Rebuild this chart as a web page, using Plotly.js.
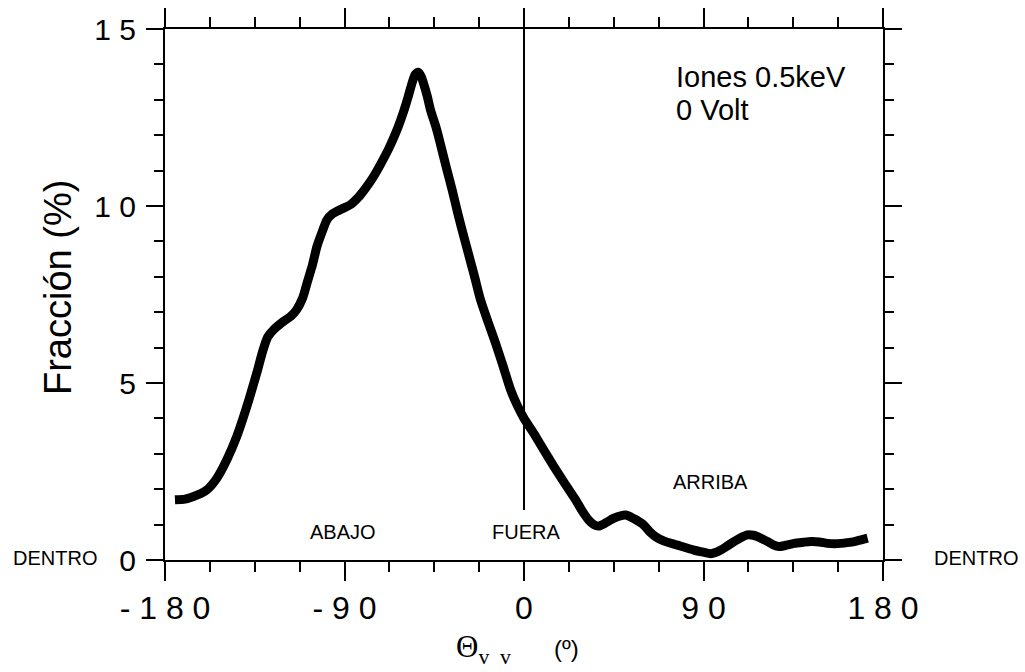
<!DOCTYPE html>
<html>
<head>
<meta charset="utf-8">
<script src="https://cdn.plot.ly/plotly-3.0.1.min.js"></script>
<style>
html,body{margin:0;padding:0;background:#fff;}
#chart{width:1025px;height:672px;}
</style>
</head>
<body>
<div id="chart"></div>
<script>
// Angle (degrees) and fraction (%)
const theta = [-175, -170, -166, -162, -159, -154, -149, -144, -139, -134, -131, -128.5, -125.6, -120.6, -117, -114, -111, -108.8, -106, -103.8, -101, -98.8, -96, -93.8, -90.5, -87, -83, -80, -76, -72, -68, -65.4, -63, -60.3, -58, -56.1, -54.5, -53, -51.5, -50.3, -48.5, -46.9, -44, -41.9, -39, -36, -33, -30, -25, -21.8, -18, -14.3, -10.5, -6.8, -3.5, 0, 4.9, 10, 15, 20, 25.9, 29, 32.4, 35, 37.4, 41, 45, 51, 55, 60, 63, 66, 70, 76.9, 85.2, 90, 93.6, 96, 98.6, 102, 105.3, 109, 112, 115, 117.1, 120, 122.1, 125, 127.9, 131, 135.4, 140, 143.8, 148, 152.2, 156, 158.9, 162, 165.6, 169, 172.3];
const fraction = [1.70, 1.72, 1.79, 1.88, 1.98, 2.31, 2.83, 3.49, 4.33, 5.28, 5.9, 6.3, 6.50, 6.74, 6.88, 7.07, 7.4, 7.82, 8.35, 8.86, 9.3, 9.61, 9.78, 9.85, 9.94, 10.04, 10.25, 10.46, 10.78, 11.17, 11.6, 11.92, 12.25, 12.68, 13.1, 13.48, 13.72, 13.78, 13.65, 13.45, 13.1, 12.72, 12.2, 11.75, 11.1, 10.45, 9.75, 9.1, 8.05, 7.35, 6.72, 6.13, 5.48, 4.82, 4.38, 4.0, 3.58, 3.1, 2.64, 2.2, 1.70, 1.4, 1.13, 1.0, 0.96, 1.05, 1.18, 1.27, 1.17, 0.99, 0.8, 0.66, 0.54, 0.42, 0.28, 0.22, 0.18, 0.21, 0.28, 0.4, 0.52, 0.64, 0.71, 0.70, 0.66, 0.58, 0.52, 0.43, 0.38, 0.41, 0.47, 0.5, 0.52, 0.51, 0.47, 0.46, 0.47, 0.49, 0.52, 0.57, 0.62];

const xTickVals = [-180, -90, 0, 90, 180];
const xTickText = ['- 1 8 0', '- 9 0', '0', '9 0', '1 8 0'];
const yTickVals = [0, 5, 10, 15];
const yTickText = ['0', '5', '1 0', '1 5'];

const regionLabels = ['ABAJO', 'FUERA', 'ARRIBA'];
const regionX = [-90.9, 1.1, 93.6];
const regionY = [0.78, 0.78, 2.19];

const font = 'Liberation Sans, Arial, sans-serif';

const trace = {
  x: theta, y: fraction, type: 'scatter', mode: 'lines',
  line: {color: '#000', width: 9, shape: 'spline', smoothing: 0.7},
  hoverinfo: 'skip'
};

const annotations = [];
for (let i = 0; i < regionLabels.length; i++) {
  annotations.push({x: regionX[i], y: regionY[i], xref: 'x', yref: 'y', text: regionLabels[i],
    showarrow: false, font: {family: font, size: 20, color: '#000'}, xanchor: 'center', yanchor: 'middle'});
}
annotations.push({x: -0.1532, y: 0.003, xref: 'paper', yref: 'paper', text: 'DENTRO', showarrow: false,
  font: {family: font, size: 20, color: '#000'}, xanchor: 'center', yanchor: 'middle'});
annotations.push({x: 1.1295, y: 0.003, xref: 'paper', yref: 'paper', text: 'DENTRO', showarrow: false,
  font: {family: font, size: 20, color: '#000'}, xanchor: 'center', yanchor: 'middle'});
annotations.push({x: (676-165)/718, y: (560-77)/531, xref: 'paper', yref: 'paper', text: 'Iones 0.5keV', showarrow: false,
  font: {family: font, size: 29, color: '#000'}, xanchor: 'left', yanchor: 'middle', xshift: -2});
annotations.push({x: (676-165)/718, y: (560-110)/531, xref: 'paper', yref: 'paper', text: '0 Volt', showarrow: false,
  font: {family: font, size: 29, color: '#000'}, xanchor: 'left', yanchor: 'middle', xshift: -2});
// axis titles
annotations.push({x: (58-165)/718, y: (560-288)/531, xref: 'paper', yref: 'paper', text: 'Fracción (%)', showarrow: false,
  textangle: -90, font: {family: font, size: 38, color: '#000'}, xanchor: 'center', yanchor: 'middle'});
annotations.push({x: (454-165)/718, y: (560-649)/531, xref: 'paper', yref: 'paper', text: 'Θ<sub>v  v</sub>', showarrow: false,
  font: {family: 'Liberation Serif, Times New Roman, serif', size: 31, color: '#000'}, xanchor: 'left', yanchor: 'middle'});
annotations.push({x: (566-165)/718, y: (560-648)/531, xref: 'paper', yref: 'paper', text: '(º)', showarrow: false,
  font: {family: font, size: 24, color: '#000'}, xanchor: 'center', yanchor: 'middle'});

const layout = {
  width: 1025, height: 672,
  margin: {l: 165, r: 142, t: 29, b: 112, pad: 0},
  paper_bgcolor: '#fff', plot_bgcolor: '#fff',
  showlegend: false,
  font: {family: font, color: '#000'},
  xaxis: {
    range: [-180, 180], tickmode: 'array', tickvals: xTickVals, ticktext: xTickText,
    ticks: 'outside', ticklen: 19, tickwidth: 2, tickcolor: '#000',
    showline: true, linewidth: 2, linecolor: '#000', mirror: 'allticks',
    showgrid: false, zeroline: false, tickfont: {family: font, size: 32, color: '#000'},
    minor: {tickmode: 'linear', tick0: -180, dtick: 22.5, ticks: 'outside', ticklen: 10, tickwidth: 2, tickcolor: '#000', showgrid: false},
    fixedrange: true
  },
  yaxis: {
    range: [0, 15], tickmode: 'array', tickvals: yTickVals, ticktext: yTickText,
    ticks: 'outside', ticklen: 17, tickwidth: 2, tickcolor: '#000',
    showline: true, linewidth: 2, linecolor: '#000', mirror: 'allticks',
    showgrid: false, zeroline: false, tickfont: {family: font, size: 30, color: '#000'},
    ticklabelstandoff: 4,
    minor: {tickmode: 'linear', tick0: 0, dtick: 1, ticks: 'outside', ticklen: 9, tickwidth: 2, tickcolor: '#000', showgrid: false},
    fixedrange: true
  },
  shapes: [
    {type: 'line', xref: 'x', yref: 'y', x0: 0, x1: 0, y0: 1.41, y1: 15, line: {color: '#000', width: 2}}
  ],
  annotations: annotations
};

Plotly.newPlot('chart', [trace], layout, {staticPlot: true, displayModeBar: false});
</script>
</body>
</html>
